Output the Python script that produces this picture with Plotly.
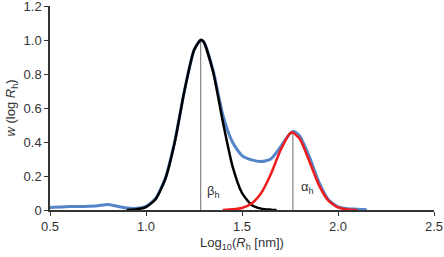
import plotly.graph_objects as go

# Measured distribution (blue)
blue_x = [0.50, 0.55, 0.60, 0.65, 0.70, 0.75, 0.80, 0.85, 0.90, 0.95, 1.00, 1.05, 1.10, 1.15,
          1.20, 1.25, 1.285, 1.30, 1.35, 1.40, 1.45, 1.50, 1.55, 1.60, 1.65, 1.70, 1.75, 1.77,
          1.80, 1.85, 1.90, 1.95, 2.00, 2.05, 2.10, 2.15]
blue_y = [0.015, 0.017, 0.020, 0.020, 0.022, 0.025, 0.032, 0.022, 0.012, 0.010, 0.022, 0.068,
          0.185, 0.405, 0.70, 0.94, 1.00, 0.99, 0.82, 0.56, 0.40, 0.32, 0.295, 0.285, 0.30,
          0.37, 0.45, 0.462, 0.435, 0.315, 0.165, 0.06, 0.018, 0.008, 0.005, 0.002]

# Beta fit (black)
beta_x = [0.90, 0.95, 1.00, 1.05, 1.10, 1.15, 1.20, 1.25, 1.285, 1.30, 1.35, 1.40, 1.45, 1.50,
          1.55, 1.60, 1.65, 1.68]
beta_y = [0.0, 0.004, 0.017, 0.063, 0.18, 0.40, 0.70, 0.94, 1.00, 0.99, 0.81, 0.52, 0.26, 0.10,
          0.03, 0.008, 0.002, 0.0]

# Alpha fit (red)
alpha_x = [1.40, 1.45, 1.50, 1.55, 1.60, 1.65, 1.70, 1.75, 1.765, 1.80, 1.85, 1.90, 1.95, 2.00,
           2.05, 2.10]
alpha_y = [0.0, 0.004, 0.012, 0.038, 0.10, 0.21, 0.35, 0.45, 0.455, 0.42, 0.29, 0.148, 0.055,
           0.015, 0.003, 0.0]

peak_x = [1.285, 1.765]
peak_y = [1.00, 0.455]
peak_labels = ["β<sub>h</sub>", "α<sub>h</sub>"]
label_x = [1.307, 1.797]
label_y = [0.11, 0.13]

x_ticks = [0.5, 1.0, 1.5, 2.0, 2.5]
x_ticklabels = ["0.5", "1.0", "1.5", "2.0", "2.5"]
y_ticks = [0, 0.2, 0.4, 0.6, 0.8, 1.0, 1.2]
y_ticklabels = ["0", "0.2", "0.4", "0.6", "0.8", "1.0", "1.2"]

fig = go.Figure()
fig.add_trace(go.Scatter(x=blue_x, y=blue_y, mode="lines",
                         line=dict(color="#5585c8", width=3, shape="spline", smoothing=0.6)))
for px, py in zip(peak_x, peak_y):
    fig.add_trace(go.Scatter(x=[px, px], y=[0, py], mode="lines",
                             line=dict(color="#444444", width=0.8)))
fig.add_trace(go.Scatter(x=beta_x, y=beta_y, mode="lines",
                         line=dict(color="black", width=2.5, shape="spline", smoothing=0.6)))
fig.add_trace(go.Scatter(x=alpha_x, y=alpha_y, mode="lines",
                         line=dict(color="#ee1c1c", width=2.5, shape="spline", smoothing=0.6)))

for lx, ly, t in zip(label_x, label_y, peak_labels):
    fig.add_annotation(x=lx, y=ly, text=t, showarrow=False, xanchor="left", yanchor="middle",
                       font=dict(size=13, color="#333333"))

fig.update_layout(
    width=444, height=257,
    margin=dict(l=50, r=10, t=6, b=47),
    paper_bgcolor="white", plot_bgcolor="white",
    showlegend=False,
    font=dict(family="Liberation Sans, Arial, sans-serif", size=13, color="#333333"),
)
fig.update_xaxes(range=[0.5, 2.5], tickvals=x_ticks, ticktext=x_ticklabels,
                 automargin=False, ticklabeloverflow="allow", tickfont=dict(size=13),
                 showgrid=False, zeroline=False, showline=True, linecolor="#333333",
                 linewidth=1.5, ticks="outside", ticklen=4, tickcolor="#333333",
                 title=dict(text="Log<sub>10</sub>(<i>R</i><sub>h</sub> [nm])",
                            font=dict(size=13), standoff=5))
fig.update_yaxes(range=[0, 1.2], tickvals=y_ticks, ticktext=y_ticklabels,
                 automargin=False, ticklabeloverflow="allow", tickfont=dict(size=13),
                 showgrid=False, zeroline=False, showline=True, linecolor="#333333",
                 linewidth=1.5, ticks="outside", ticklen=4, tickcolor="#333333",
                 title=dict(text="<i>w</i> (log <i>R</i><sub>h</sub>)",
                            font=dict(size=13), standoff=5))

fig.write_html("out.html", config={"displayModeBar": False},
               post_script="document.body.style.margin='0';")
